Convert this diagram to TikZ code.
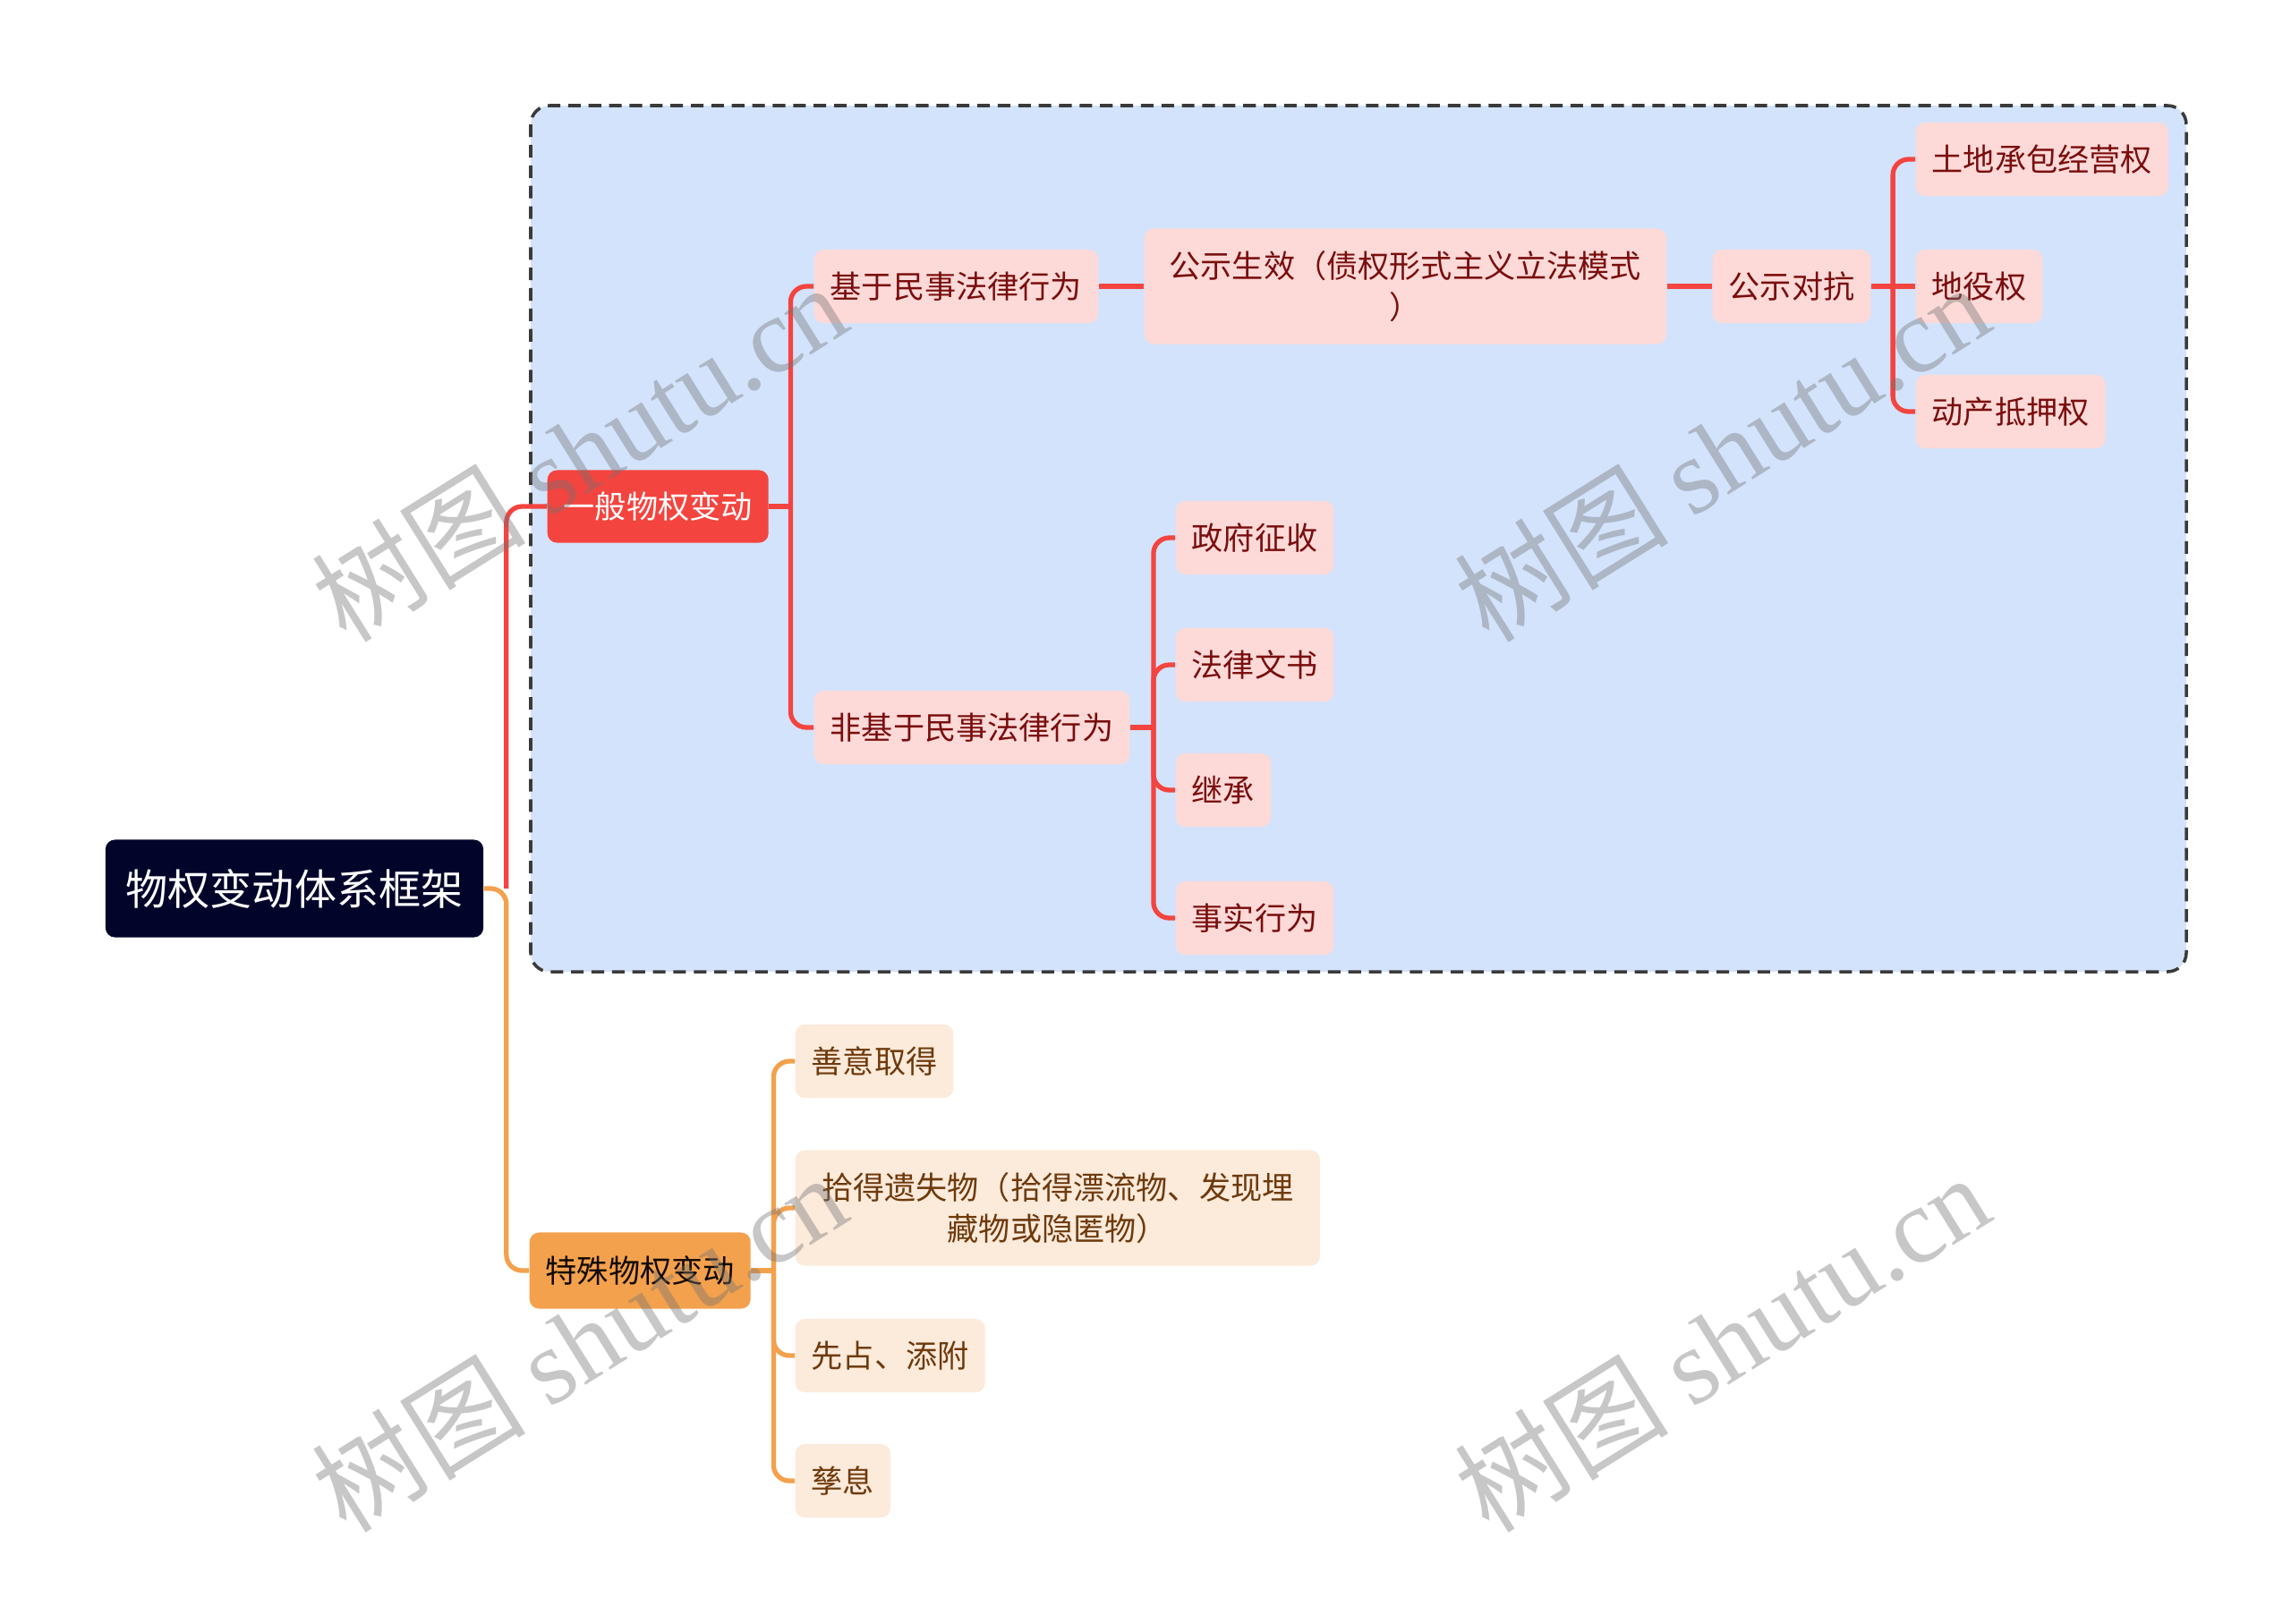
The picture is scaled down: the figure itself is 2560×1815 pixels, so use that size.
\documentclass[tikz,border=0pt]{standalone}
\usepackage{fontspec}
\setmainfont{Noto Sans CJK SC}
\newfontfamily\wmfont{Liberation Serif}
\usepackage{xcolor}
\definecolor{rootfill}{HTML}{02042A}
\definecolor{redmain}{HTML}{F4443F}
\definecolor{redpale}{HTML}{FDDAD8}
\definecolor{redtext}{HTML}{7A0E0E}
\definecolor{orgmain}{HTML}{F3A14D}
\definecolor{orgpale}{HTML}{FCEADB}
\definecolor{orgtext}{HTML}{6E3A0C}
\definecolor{groupblue}{HTML}{D3E3FC}
\definecolor{groupline}{HTML}{3A3A3A}

\begin{document}
\begin{tikzpicture}[x=0.01cm,y=-0.01cm,
  redkid/.style={fill=redpale,text=redtext,rounded corners=3pt,minimum height=0.82cm,inner xsep=0.18cm,anchor=west,align=center,font=\fontsize{10}{13}\selectfont},
  orgkid/.style={fill=orgpale,text=orgtext,rounded corners=3pt,minimum height=0.82cm,inner xsep=0.18cm,anchor=west,align=center,font=\fontsize{10}{13}\selectfont},
  redline/.style={draw=redmain,line width=1.5pt,rounded corners=5pt},
  orgline/.style={draw=orgmain,line width=1.5pt,rounded corners=5pt},
  watermark/.style={text=black!55,text opacity=0.4,rotate=32,font=\fontsize{34}{34}\selectfont}]
\useasboundingbox (0,0) rectangle (2560,1815);

% Group frame
\draw[groupline,fill=groupblue,line width=1pt,dash pattern=on 4pt off 2.5pt,rounded corners=6pt] (593,118) rectangle (2443,1086);

% Root
\node[fill=rootfill,text=white,rounded corners=3pt,minimum width=4.22cm,minimum height=1.09cm,font=\fontsize{13.4}{16}\selectfont] (root) at (329,993) {物权变动体系框架};

% Main branches
\node[fill=redmain,text=white,rounded corners=3pt,minimum height=0.81cm,inner xsep=0.18cm,anchor=west,font=\fontsize{10}{13}\selectfont] (general) at (611,566) {一般物权变动};
\node[fill=orgmain,text=black!85!orgtext,rounded corners=3pt,minimum height=0.85cm,inner xsep=0.18cm,anchor=west,font=\fontsize{10}{13}\selectfont] (special) at (591,1420) {特殊物权变动};

% Based on civil juristic acts
\node[redkid] (basedact) at (909,320) {基于民事法律行为};
\node[redkid,minimum width=5.83cm,minimum height=1.29cm] (pubeff) at (1278,320) {公示生效（债权形式主义立法模式\\）};
\node[redkid] (pubadv) at (1913,320) {公示对抗};
\node[redkid] (landright) at (2140,178) {土地承包经营权};
\node[redkid] (easement) at (2140,320) {地役权};
\node[redkid] (chattel) at (2140,460) {动产抵押权};

% Not based on civil juristic acts
\node[redkid] (nonbased) at (909,813) {非基于民事法律行为};
\node[redkid] (expro) at (1313,601) {政府征收};
\node[redkid] (legaldoc) at (1313,743) {法律文书};
\node[redkid] (inherit) at (1313,883) {继承};
\node[redkid] (factact) at (1313,1026) {事实行为};

% Special changes
\node[orgkid] (goodfaith) at (888,1186) {善意取得};
\node[orgkid,minimum width=5.86cm,minimum height=1.29cm] (lostprop) at (888,1350) {拾得遗失物（拾得漂流物、发现埋\\藏物或隐匿物）};
\node[orgkid] (occupy) at (888,1515) {先占、添附};
\node[orgkid] (fruits) at (888,1655) {孳息};

% Fork points
\path (root.east) ++(25,0) coordinate (rootfork);
\path (general.east) ++(24,0) coordinate (genfork);
\path (pubadv.east) ++(24,0) coordinate (advfork);
\path (nonbased.east) ++(26,0) coordinate (nonfork);
\path (special.east) ++(25,0) coordinate (spefork);

% Connectors
\draw[redline] (rootfork) |- (general.west);
\draw[orgline] (root.east) -- (rootfork) |- (special.west);

\draw[redline] (general.east) -- (genfork);
\draw[redline] (genfork) |- (basedact.west);
\draw[redline] (genfork) |- (nonbased.west);

\draw[redline] (basedact.east) -- (pubeff.west);
\draw[redline] (pubeff.east) -- (pubadv.west);
\draw[redline] (pubadv.east) -- (easement.west);
\draw[redline] (advfork) |- (landright.west);
\draw[redline] (advfork) |- (chattel.west);

\draw[redline] (nonbased.east) -- (nonfork);
\foreach \kid in {expro,legaldoc,inherit,factact}
  \draw[redline] (nonfork) |- (\kid.west);

\draw[orgline] (special.east) -- (spefork);
\foreach \kid in {goodfaith,lostprop,occupy,fruits}
  \draw[orgline] (spefork) |- (\kid.west);

% Watermarks
\node[watermark] (wma) at (647,505) {树图 {\wmfont shutu.cn}};
\node[watermark] (wmb) at (1924,505) {树图 {\wmfont shutu.cn}};
\node[watermark] (wmc) at (647,1500) {树图 {\wmfont shutu.cn}};
\node[watermark] (wmd) at (1924,1500) {树图 {\wmfont shutu.cn}};
\end{tikzpicture}
\end{document}
